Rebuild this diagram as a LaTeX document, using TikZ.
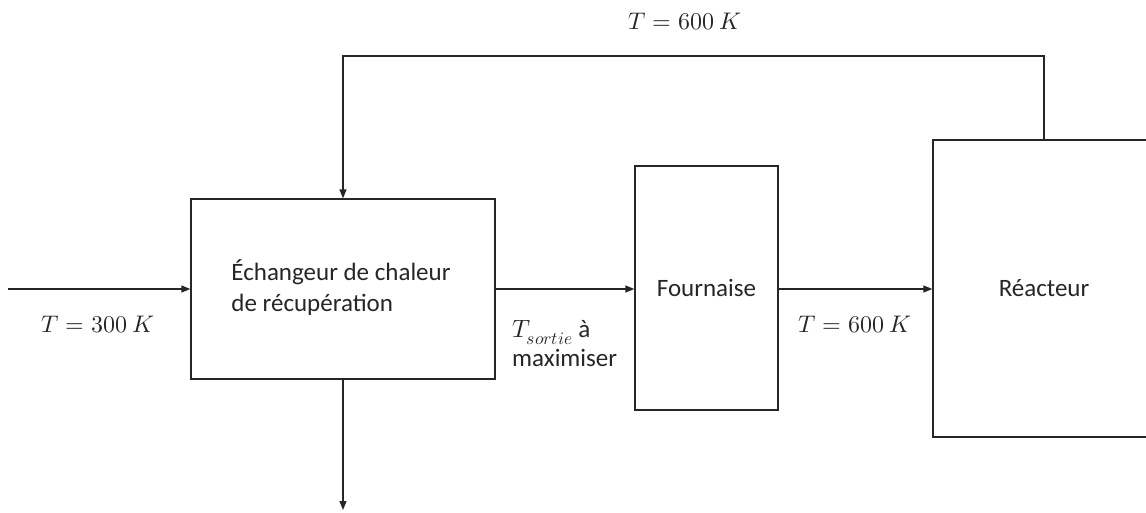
\documentclass[tikz,border=0pt]{standalone}
\usepackage{fontspec}
\usepackage{unicode-math}
\setmainfont{Carlito}
\setmathfont{Latin Modern Math}
\usetikzlibrary{arrows.meta}
\definecolor{ink}{HTML}{262626}
\begin{document}
\begin{tikzpicture}[x=1pt,y=-1pt,
  unit/.style={draw=ink,line width=1.3pt,rectangle,inner sep=0pt,text=ink,
    font=\fontsize{25}{31}\selectfont},
  flow/.style={draw=ink,line width=1.3pt,-{Triangle[length=9pt,width=7pt]}},
  lbl/.style={text=ink,font=\fontsize{24}{30}\selectfont,inner sep=0pt}]
\useasboundingbox (0,0) rectangle (1146,512);
\clip (0,0) rectangle (1146,512);

% process units
\node[unit,minimum width=304pt,minimum height=180pt] (ech) at (343,289) {};
\node[text=ink,font=\fontsize{25}{31}\selectfont,align=left,inner sep=0pt] (echtxt)
  at (341,288) {Échangeur de chaleur\\de récupération};
\node[unit,minimum width=143pt,minimum height=244pt] (four) at (706.5,288) {Fournaise};
\node[unit,minimum width=222pt,minimum height=297pt] (rea) at (1044,288.5) {Réacteur};

% stream end points
\coordinate (in) at (8,289);
\coordinate (out) at (343,510);
\coordinate (top) at (1044,56);

% streams
\draw[flow] (in) -- (ech.west |- in);
\draw[flow] (ech.east |- in) -- (four.west |- in);
\draw[flow] (four.east |- in) -- (rea.west |- in);
\draw[flow] (rea.north) -- (top) -| (ech.north);
\draw[flow] (ech.south) -- (out);

% stream labels
\node[lbl] (t300) at (98,325) {$T = 300\ K$};
\node[lbl] (t600a) at (855,325) {$T = 600\ K$};
\node[lbl] (t600b) at (685,22) {$T = 600\ K$};
\node[lbl,anchor=west,align=left,font=\fontsize{25}{29}\selectfont] (ts) at (512,344)
  {$T_{sortie}$ à\\maximiser};
\end{tikzpicture}
\end{document}
